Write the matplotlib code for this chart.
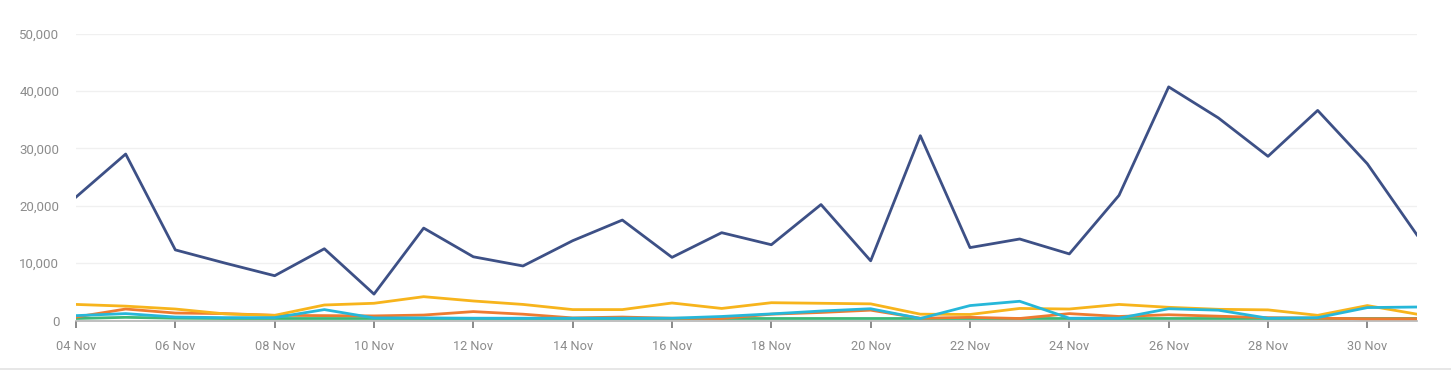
import matplotlib
matplotlib.use("Agg")
import matplotlib.pyplot as plt
import matplotlib.dates as mdates
from matplotlib.lines import Line2D
import pandas as pd

dates = pd.date_range("2024-11-04", "2024-12-01", freq="D")
tick_dates = pd.date_range("2024-11-04", "2024-11-30", freq="2D")

series_blue = [21500, 29000, 12300, 10000, 7800, 12500, 4600, 16100, 11100, 9500,
               13900, 17500, 11000, 15300, 13200, 20200, 10400, 32200, 12700, 14200,
               11600, 21800, 40700, 35300, 28600, 36600, 27300, 14900]
series_yellow = [2800, 2500, 2000, 1150, 900, 2700, 3000, 4150, 3400, 2800,
                 1900, 1900, 3050, 2100, 3100, 3000, 2900, 1100, 1050, 2100,
                 2000, 2800, 2300, 1950, 1850, 900, 2600, 1100]
series_orange = [600, 2000, 1300, 1200, 900, 850, 800, 950, 1550, 1100,
                 450, 600, 400, 350, 1100, 1400, 1800, 400, 550, 350,
                 1200, 700, 1000, 750, 500, 400, 300, 300]
series_cyan = [850, 1200, 600, 500, 500, 1900, 450, 450, 400, 400,
               400, 400, 400, 700, 1150, 1650, 2050, 350, 2600, 3350,
               400, 400, 2050, 1800, 400, 500, 2250, 2350]
series_green = [350, 550, 400, 350, 350, 350, 350, 350, 350, 350,
                350, 350, 350, 350, 350, 350, 350, 350, 350, 350,
                350, 350, 350, 350, 350, 350, 350, 350]

y_ticks = [0, 10000, 20000, 30000, 40000, 50000]

plt.rcParams['font.family'] = ['Roboto', 'DejaVu Sans']

fig = plt.figure(figsize=(14.51, 3.77), dpi=100)
ax = fig.add_axes([76/1451, (377-320.5)/377, (1417-76)/1451, (320.5-33.5)/377])

lw = 2.0
ax.plot(dates, series_green, color="#3cb878", lw=lw, zorder=2)
ax.plot(dates, series_orange, color="#ee7b30", lw=lw, zorder=3)
ax.plot(dates, series_yellow, color="#f7b41c", lw=lw, zorder=4)
ax.plot(dates, series_cyan, color="#26b7d9", lw=lw, zorder=5)
ax.plot(dates, series_blue, color="#3d5086", lw=lw, zorder=6)

ax.set_xlim(dates[0], dates[-1])
ax.set_ylim(0, 50000)
ax.set_yticks(y_ticks)
ax.set_yticklabels([f"{v:,}" for v in y_ticks])
ax.set_xticks(tick_dates)
ax.set_xticklabels([d.strftime("%d %b") for d in tick_dates])

ax.grid(axis="y", color="#f0f0f0", lw=1)
ax.set_axisbelow(True)
for s in ["top", "right", "left"]:
    ax.spines[s].set_visible(False)
ax.spines["bottom"].set_color("#b5b5b5")
ax.spines["bottom"].set_linewidth(1.2)
ax.tick_params(axis="y", length=0, pad=12, labelsize=9.5, labelcolor="#8c8c8c")
ax.tick_params(axis="x", length=5, width=1.2, color="#777777", pad=9,
               labelsize=9.2, labelcolor="#8c8c8c")

fig.add_artist(Line2D([0, 1], [(377-369)/377]*2, color="#e3e3e3", lw=1.2,
                      transform=fig.transFigure))

fig.savefig("out.png", dpi=100)
